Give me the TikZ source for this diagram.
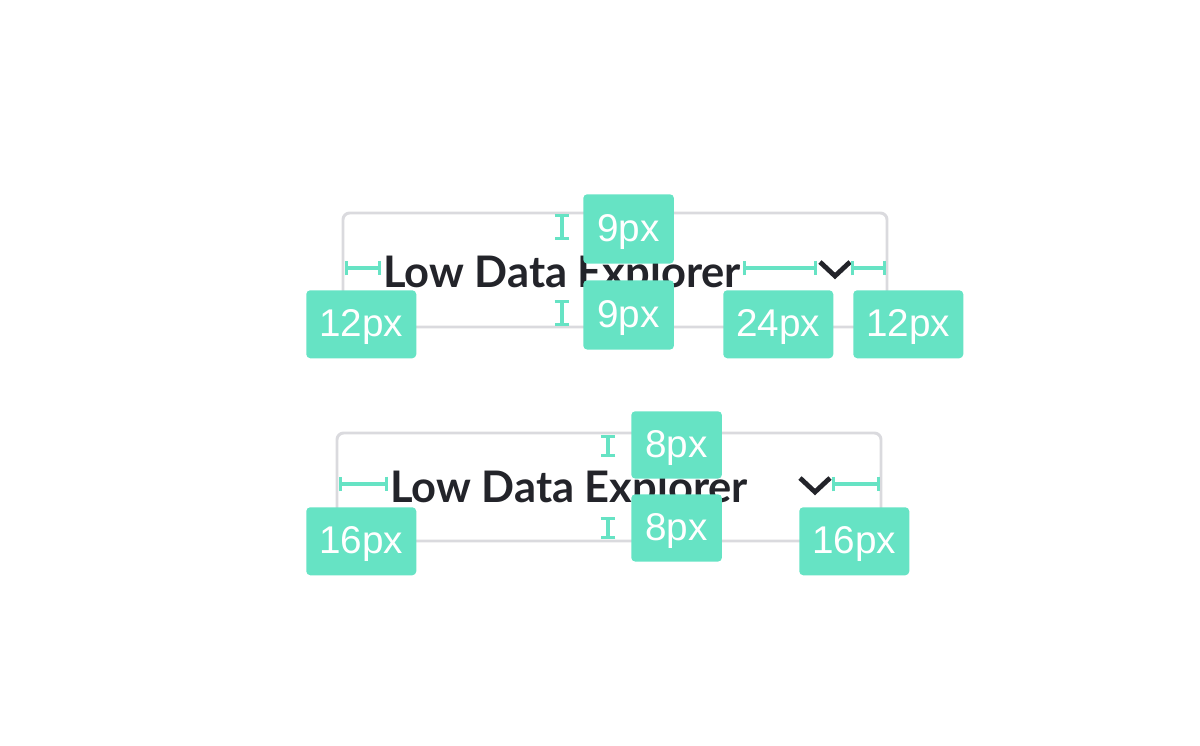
\documentclass[tikz,border=0pt]{standalone}
\usepackage{fontspec}
\setmainfont{Liberation Sans}
\newfontfamily\titlefont{Lato}
\usetikzlibrary{arrows.meta}
\definecolor{mint}{HTML}{66E3C4}
\definecolor{boxgray}{HTML}{DADADE}
\definecolor{ink}{HTML}{23242A}
\begin{document}
\begin{tikzpicture}[x=0.75pt,y=-0.75pt,
  fieldbox/.style={draw=boxgray,line width=2.2pt,rounded corners=5pt},
  title/.style={font=\titlefont\bfseries\fontsize{32.6}{36}\selectfont,text=ink,anchor=base west,inner sep=0pt},
  chev/.style={draw=ink,line width=3.6pt},
  dimline/.style={draw=mint,line width=2.3pt,{Bar[width=11pt,line width=2.3pt]}-{Bar[width=11pt,line width=2.3pt]}},
  tag/.style={fill=mint,rounded corners=3pt,text=white,font=\fontsize{29}{32}\selectfont,minimum width=82.5pt,minimum height=51pt,inner sep=0pt,text height=25pt,text depth=6pt,anchor=north west}
]
\useasboundingbox (0,0) rectangle (1200,746);
% ---- top field
\draw[fieldbox] (343,213) rectangle (887,327);
\node[title] (t1) at (383,287) {Low Data Explorer};
\draw[chev] (820,262) -- (835,276) -- (850,262);
\coordinate (a1) at (345,268); \coordinate (a2) at (381,268);
\draw[dimline] (a1) -- (a2);
\coordinate (b1) at (743,268); \coordinate (b2) at (817,268);
\draw[dimline] (b1) -- (b2);
\coordinate (c1) at (851,268); \coordinate (c2) at (886,268);
\draw[dimline] (c1) -- (c2);
\coordinate (d1) at (562,214); \coordinate (d2) at (562,240);
\draw[dimline] (d1) -- (d2);
\coordinate (e1) at (562,300); \coordinate (e2) at (562,326);
\draw[dimline] (e1) -- (e2);
\node[tag,minimum width=68pt,minimum height=52pt] (l1) at (583,194) {9px};
\node[tag,minimum width=68pt,minimum height=52pt] (l2) at (583,280) {9px};
\node[tag] (l3) at (306,290) {12px};
\node[tag] (l4) at (723,290) {24px};
\node[tag] (l5) at (853,290) {12px};
% ---- bottom field
\draw[fieldbox] (337,433) rectangle (881,541);
\node[title] (t2) at (390,502) {Low Data Explorer};
\draw[chev] (800,478) -- (815,492) -- (830,478);
\coordinate (f1) at (339,484); \coordinate (f2) at (388,484);
\draw[dimline] (f1) -- (f2);
\coordinate (g1) at (832,484); \coordinate (g2) at (880,484);
\draw[dimline] (g1) -- (g2);
\coordinate (h1) at (608,435); \coordinate (h2) at (608,457);
\draw[dimline] (h1) -- (h2);
\coordinate (i1) at (608,517); \coordinate (i2) at (608,539);
\draw[dimline] (i1) -- (i2);
\node[tag,minimum width=68pt,minimum height=50.5pt] (m1) at (631,411) {8px};
\node[tag,minimum width=68pt,minimum height=50.5pt] (m2) at (631,494) {8px};
\node[tag] (m3) at (306,507) {16px};
\node[tag] (m4) at (799,507) {16px};
\end{tikzpicture}
\end{document}
